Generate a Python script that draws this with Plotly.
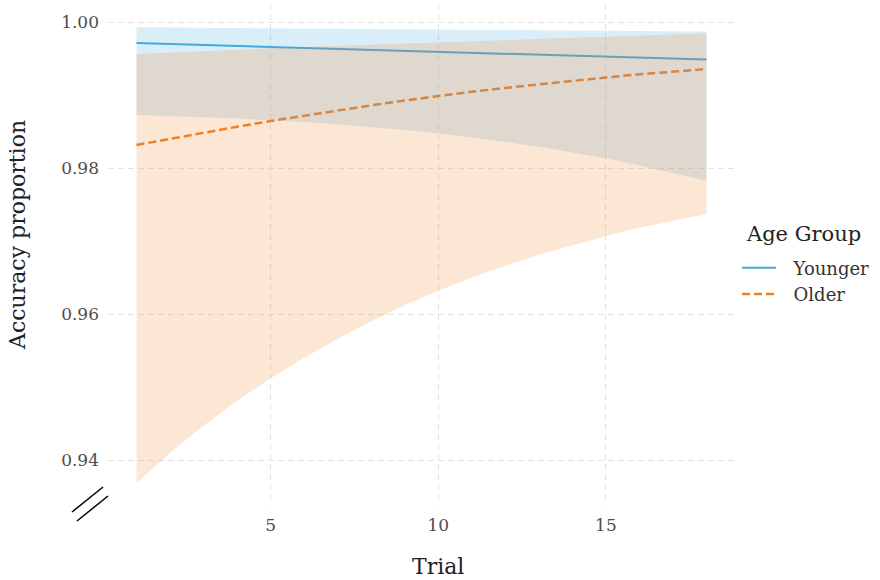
import plotly.graph_objects as go

# Model-predicted accuracy per trial, with 95% confidence bands
trials = list(range(1, 19))

younger_fit = [0.99712, 0.99699, 0.99685, 0.99672, 0.99659, 0.99645, 0.99632, 0.99619,
               0.99605, 0.99592, 0.99578, 0.99565, 0.99552, 0.99538, 0.99525, 0.99512,
               0.99498, 0.99485]
younger_lo = [0.98726, 0.98712, 0.98696, 0.98678, 0.98658, 0.98630, 0.98598, 0.98561,
              0.98520, 0.98475, 0.98419, 0.98357, 0.98290, 0.98216, 0.98133, 0.98035,
              0.97933, 0.97826]
younger_hi = [0.99927, 0.99924, 0.99920, 0.99917, 0.99914, 0.99910, 0.99907, 0.99904,
              0.99900, 0.99897, 0.99894, 0.99890, 0.99887, 0.99884, 0.99880, 0.99877,
              0.99874, 0.99870]

older_fit = [0.98315, 0.98400, 0.98484, 0.98565, 0.98644, 0.98718, 0.98790, 0.98858,
             0.98925, 0.98990, 0.99045, 0.99097, 0.99147, 0.99195, 0.99240, 0.99283,
             0.99320, 0.99355]
older_lo = [0.93680, 0.94100, 0.94470, 0.94810, 0.95120, 0.95400, 0.95660, 0.95900,
            0.96120, 0.96320, 0.96500, 0.96660, 0.96810, 0.96940, 0.97070, 0.97180,
            0.97280, 0.97370]
older_hi = [0.99562, 0.99583, 0.99603, 0.99622, 0.99640, 0.99657, 0.99674, 0.99690,
            0.99706, 0.99722, 0.99738, 0.99753, 0.99768, 0.99783, 0.99798, 0.99813,
            0.99829, 0.99845]

groups = ["Younger", "Older"]
x_ticks = [5, 10, 15]
y_ticks = [0.94, 0.96, 0.98, 1.00]
y_tick_text = ["0.94", "0.96", "0.98", "1.00"]

BLUE = "rgb(72,168,224)"
BLUE_FILL = "rgba(72,168,224,0.2)"
ORANGE = "rgb(240,128,38)"
ORANGE_FILL = "rgba(240,128,38,0.2)"
FONT = "DejaVu Serif"
GAP = "\u2002\u2009"  # extra room between legend key and label

fig = go.Figure()

# fitted lines first, bands drawn on top of them
fig.add_trace(go.Scatter(x=trials, y=younger_fit, mode="lines", name=GAP + groups[0],
                         line=dict(color=BLUE, width=2)))
fig.add_trace(go.Scatter(x=trials, y=older_fit, mode="lines", name=GAP + groups[1],
                         line=dict(color=ORANGE, width=2.5, dash="8px,4px")))

for lo, hi, fill in [(younger_lo, younger_hi, BLUE_FILL), (older_lo, older_hi, ORANGE_FILL)]:
    fig.add_trace(go.Scatter(
        x=trials + trials[::-1], y=hi + lo[::-1], mode="lines", fill="toself",
        fillcolor=fill, line=dict(width=0), hoverinfo="skip", showlegend=False))

grid = dict(showgrid=True, gridcolor="#e3e3e3", gridwidth=1.2, griddash="6px,4px",
            zeroline=False, showline=False, ticks="",
            tickfont=dict(family=FONT, size=17, color="#4d4d4d"))

fig.update_xaxes(range=[0.15, 18.85], tickvals=x_ticks, ticklabelstandoff=8, **grid)
fig.update_yaxes(range=[0.933836, 1.002466], tickvals=y_ticks, ticktext=y_tick_text,
                 ticklabelstandoff=8, **grid)

W, H = 880, 580
L, R, T, B = 108, 145, 4, 75
pw, ph = W - L - R, H - T - B


def px_to_paper(px, py):
    return (px - L) / pw, (H - B - py) / ph


# axis titles
tx, ty = px_to_paper(438, 566)
fig.add_annotation(text="Trial", x=tx, y=ty, xref="paper", yref="paper",
                   xanchor="center", yanchor="middle", showarrow=False,
                   font=dict(family=FONT, size=22, color="#222"))
ax_, ay_ = px_to_paper(18, 235)
fig.add_annotation(text="Accuracy proportion", x=ax_, y=ay_, xref="paper", yref="paper",
                   xanchor="center", yanchor="middle", textangle=-90, showarrow=False,
                   font=dict(family=FONT, size=22, color="#222"))

# legend heading
hx, hy = px_to_paper(744, 234)
fig.add_annotation(text="Age Group", x=hx, y=hy, xref="paper", yref="paper",
                   xanchor="left", yanchor="middle", showarrow=False,
                   font=dict(family=FONT, size=21, color="#222"))

# axis-break marker below the y axis
for (x0, y0, x1, y1) in [(72, 512, 103, 487), (77, 521, 108, 496)]:
    a0, b0 = px_to_paper(x0, y0)
    a1, b1 = px_to_paper(x1, y1)
    fig.add_shape(type="line", xref="paper", yref="paper", x0=a0, y0=b0, x1=a1, y1=b1,
                  line=dict(color="black", width=1.5))

lx, ly = px_to_paper(737, 281)
fig.update_layout(
    width=W, height=H,
    margin=dict(l=L, r=R, t=T, b=B),
    plot_bgcolor="white", paper_bgcolor="white",
    font=dict(family=FONT, color="#222"),
    legend=dict(font=dict(family=FONT, size=18, color="#333"),
                x=lx, xanchor="left", y=ly, yanchor="middle",
                itemwidth=34, tracegroupgap=0, bgcolor="rgba(0,0,0,0)"),
)

fig.write_html("out.html")
